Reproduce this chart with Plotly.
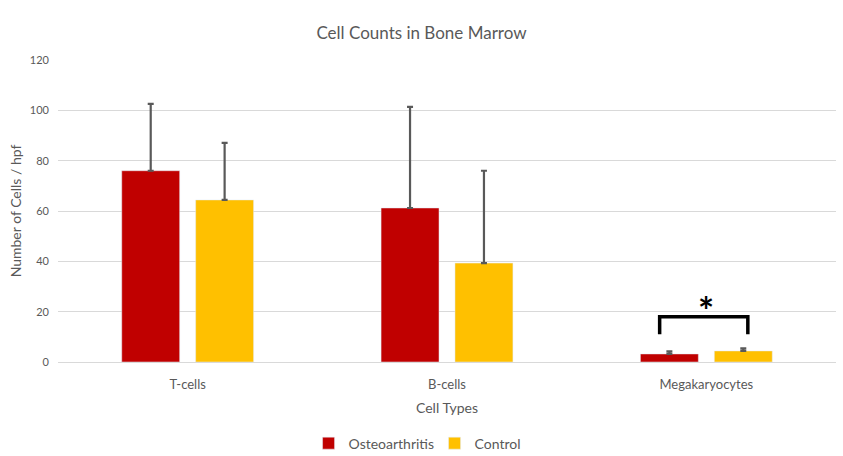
import plotly.graph_objects as go

categories = ["T-cells", "B-cells", "Megakaryocytes"]
oa_values = [76, 61.2, 3.2]
oa_errors = [26.6, 40.2, 1.0]
ctrl_values = [64.4, 39.3, 4.4]
ctrl_errors = [22.7, 36.7, 1.0]
bracket_x = [2 - 0.18, 2 - 0.18, 2 + 0.16, 2 + 0.16]
bracket_y = [11, 18, 18, 11]
star_pos = (2 + 0.0, 20.5)

FONT = "Lato, Open Sans, sans-serif"
TXT = "#595959"

fig = go.Figure()
fig.add_trace(go.Bar(
    name="Osteoarthritis", x=categories, y=oa_values, marker_color="#C00000",
    error_y=dict(type="data", array=oa_errors, symmetric=False,
                 arrayminus=[0] * 3, color="#595959", thickness=2.2, width=3),
))
fig.add_trace(go.Bar(
    name="Control", x=categories, y=ctrl_values, marker_color="#FFC000",
    error_y=dict(type="data", array=ctrl_errors, symmetric=False,
                 arrayminus=[0] * 3, color="#595959", thickness=2.2, width=3),
))

fig.add_shape(type="path",
              path=(f"M {bracket_x[0]},{bracket_y[0]} L {bracket_x[1]},{bracket_y[1]} "
                    f"L {bracket_x[2]},{bracket_y[2]} L {bracket_x[3]},{bracket_y[3]}"),
              xref="x", yref="y", line=dict(color="black", width=3.5))
fig.add_annotation(x=star_pos[0], y=star_pos[1], xref="x", yref="y", text="<b>*</b>",
                   showarrow=False, font=dict(size=38, color="black", family=FONT))

fig.update_layout(
    width=843, height=456,
    margin=dict(l=58, r=7, t=60, b=94, autoexpand=False),
    paper_bgcolor="white", plot_bgcolor="white",
    font=dict(family=FONT, color=TXT),
    title=dict(text="Cell Counts in Bone Marrow", x=0.5, xanchor="center",
               y=1 - 33 / 456, yanchor="middle",
               font=dict(size=17, color=TXT, family=FONT)),
    barmode="group", bargap=0.43, bargroupgap=0.216,
    showlegend=True,
    legend=dict(orientation="h", x=0.484, xanchor="center", y=-0.27, yanchor="middle",
                font=dict(size=14, color=TXT, family=FONT), traceorder="normal",
                entrywidth=81, entrywidthmode="pixels", itemwidth=30),
)
fig.update_yaxes(range=[0, 120], dtick=20, showgrid=True, gridcolor="#D9D9D9",
                 gridwidth=1, zeroline=False, showline=False, automargin=False,
                 tickfont=dict(size=11, color=TXT), ticklabelstandoff=8,
                 title=dict(text="Number of Cells / hpf", font=dict(size=14, color=TXT),
                            standoff=4))
fig.update_xaxes(showline=True, linecolor="#D9D9D9", linewidth=1, showgrid=False,
                 automargin=False,
                 tickfont=dict(size=13, color=TXT), ticklabelstandoff=10,
                 title=dict(text="Cell Types", font=dict(size=14, color=TXT), standoff=12))

fig.write_html("out.html")
